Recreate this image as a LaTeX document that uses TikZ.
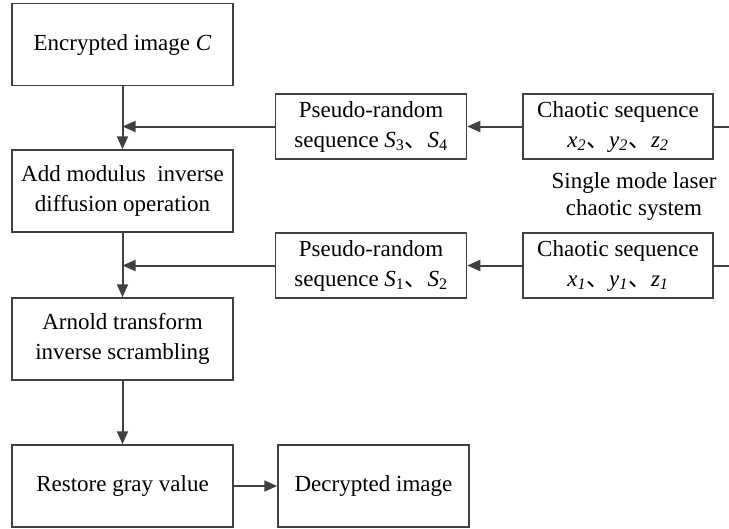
\documentclass[tikz,border=0pt]{standalone}
\usepackage{fontspec}
\setmainfont{Liberation Serif}
\newfontfamily\cjk{Noto Sans CJK SC}
\usetikzlibrary{arrows.meta}
\definecolor{linec}{HTML}{404040}
\newcommand{\dun}{{\cjk 、}}
\newcommand{\isub}[2]{\textit{#1}\textsubscript{\textit{#2}}}
\begin{document}
\begin{tikzpicture}[x=1pt,y=-1pt,
  box/.style={draw=linec,line width=1.5pt,inner sep=0pt,align=center,
    font=\fontsize{23}{30}\selectfont,text=black},
  lbox/.style={box,minimum width=221pt,minimum height=82pt},
  sbox/.style={box,minimum width=191pt,minimum height=65pt},
  conn/.style={draw=linec,line width=2pt},
  arr/.style={conn,-{Triangle[length=13pt,width=11pt]}}]
\useasboundingbox (0,0) rectangle (729,528);
\node[lbox] (enc) at (122.5,44.5) {Encrypted image \textit{C}};
\node[lbox] (add) at (122.5,191) {Add modulus~ inverse\\diffusion operation};
\node[lbox] (arn) at (122.5,339) {Arnold transform\\inverse scrambling};
\node[lbox] (res) at (122.5,486) {Restore gray value};
\node[box,minimum width=191pt,minimum height=82pt] (dec) at (373.5,486) {Decrypted image};
\node[sbox] (pr1) at (371,126.5) {Pseudo-random\\sequence \textit{S}\textsubscript{3}\dun\textit{S}\textsubscript{4}};
\node[sbox] (pr2) at (371,265.5) {Pseudo-random\\sequence \textit{S}\textsubscript{1}\dun\textit{S}\textsubscript{2}};
\node[sbox,minimum width=190pt] (cs2) at (618,126.5) {Chaotic sequence\\\isub{x}{2}\dun\isub{y}{2}\dun\isub{z}{2}};
\node[sbox,minimum width=190pt] (cs1) at (618,265.5) {Chaotic sequence\\\isub{x}{1}\dun\isub{y}{1}\dun\isub{z}{1}};
\node[align=center,inner sep=0pt,font=\fontsize{23}{27}\selectfont] (sml) at (634,196.5) {Single mode laser\\chaotic system};
\coordinate (j1) at (enc.south |- pr1.west);
\coordinate (j2) at (add.south |- pr2.west);
\coordinate (e1) at (729,126.5);
\coordinate (e2) at (729,265.5);
\draw[arr] (enc.south) -- (add.north);
\draw[arr] (add.south) -- (arn.north);
\draw[arr] (arn.south) -- (res.north);
\draw[arr] (res.east) -- (dec.west);
\draw[arr] (pr1.west) -- (j1);
\draw[arr] (pr2.west) -- (j2);
\draw[arr] (cs2.west) -- (pr1.east);
\draw[arr] (cs1.west) -- (pr2.east);
\draw[conn] (cs2.east) -- (e1);
\draw[conn] (cs1.east) -- (e2);
\end{tikzpicture}
\end{document}
